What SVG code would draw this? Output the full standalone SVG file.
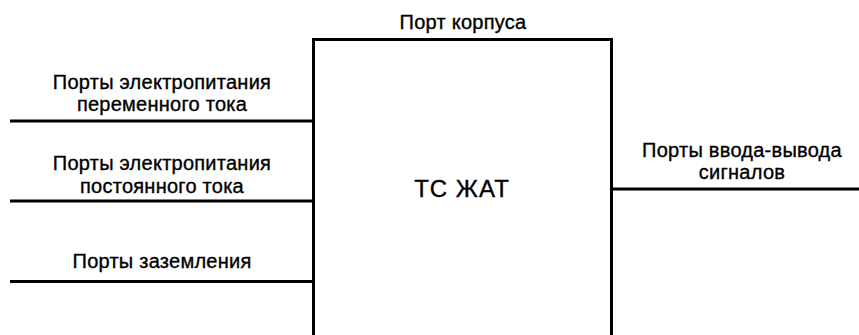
<svg xmlns="http://www.w3.org/2000/svg" width="859" height="335" viewBox="0 0 859 335">
<style>
.t{font-family:"Liberation Sans",Arial,sans-serif;font-size:20px;fill:#000;text-anchor:middle;letter-spacing:0.25px;stroke:#000;stroke-width:0.35px}
.b{font-size:24px;letter-spacing:1px}
.ln{stroke:#000;stroke-width:3;fill:none}
</style>
<rect width="859" height="335" fill="#fff"/>
<g id="connectors">
<line class="ln" x1="10" y1="121" x2="313" y2="121"/>
<line class="ln" x1="10" y1="201" x2="313" y2="201"/>
<line class="ln" x1="10" y1="281.5" x2="313" y2="281.5"/>
<line class="ln" x1="612" y1="189" x2="859" y2="189"/>
</g>
<g id="node-tc">
<path class="ln" d="M313.5 340 V39.5 H611.5 V340"/>
<text class="t b" x="462" y="197">ТС ЖАТ</text>
</g>
<g id="label-case"><text class="t" x="463" y="29">Порт корпуса</text></g>
<g id="label-ac"><text class="t" x="162" y="89">Порты электропитания</text><text class="t" x="162" y="111">переменного тока</text></g>
<g id="label-dc"><text class="t" x="162" y="170">Порты электропитания</text><text class="t" x="162" y="193">постоянного тока</text></g>
<g id="label-gnd"><text class="t" x="162" y="268">Порты заземления</text></g>
<g id="label-io"><text class="t" x="742" y="157">Порты ввода-вывода</text><text class="t" x="742" y="179">сигналов</text></g>
</svg>
